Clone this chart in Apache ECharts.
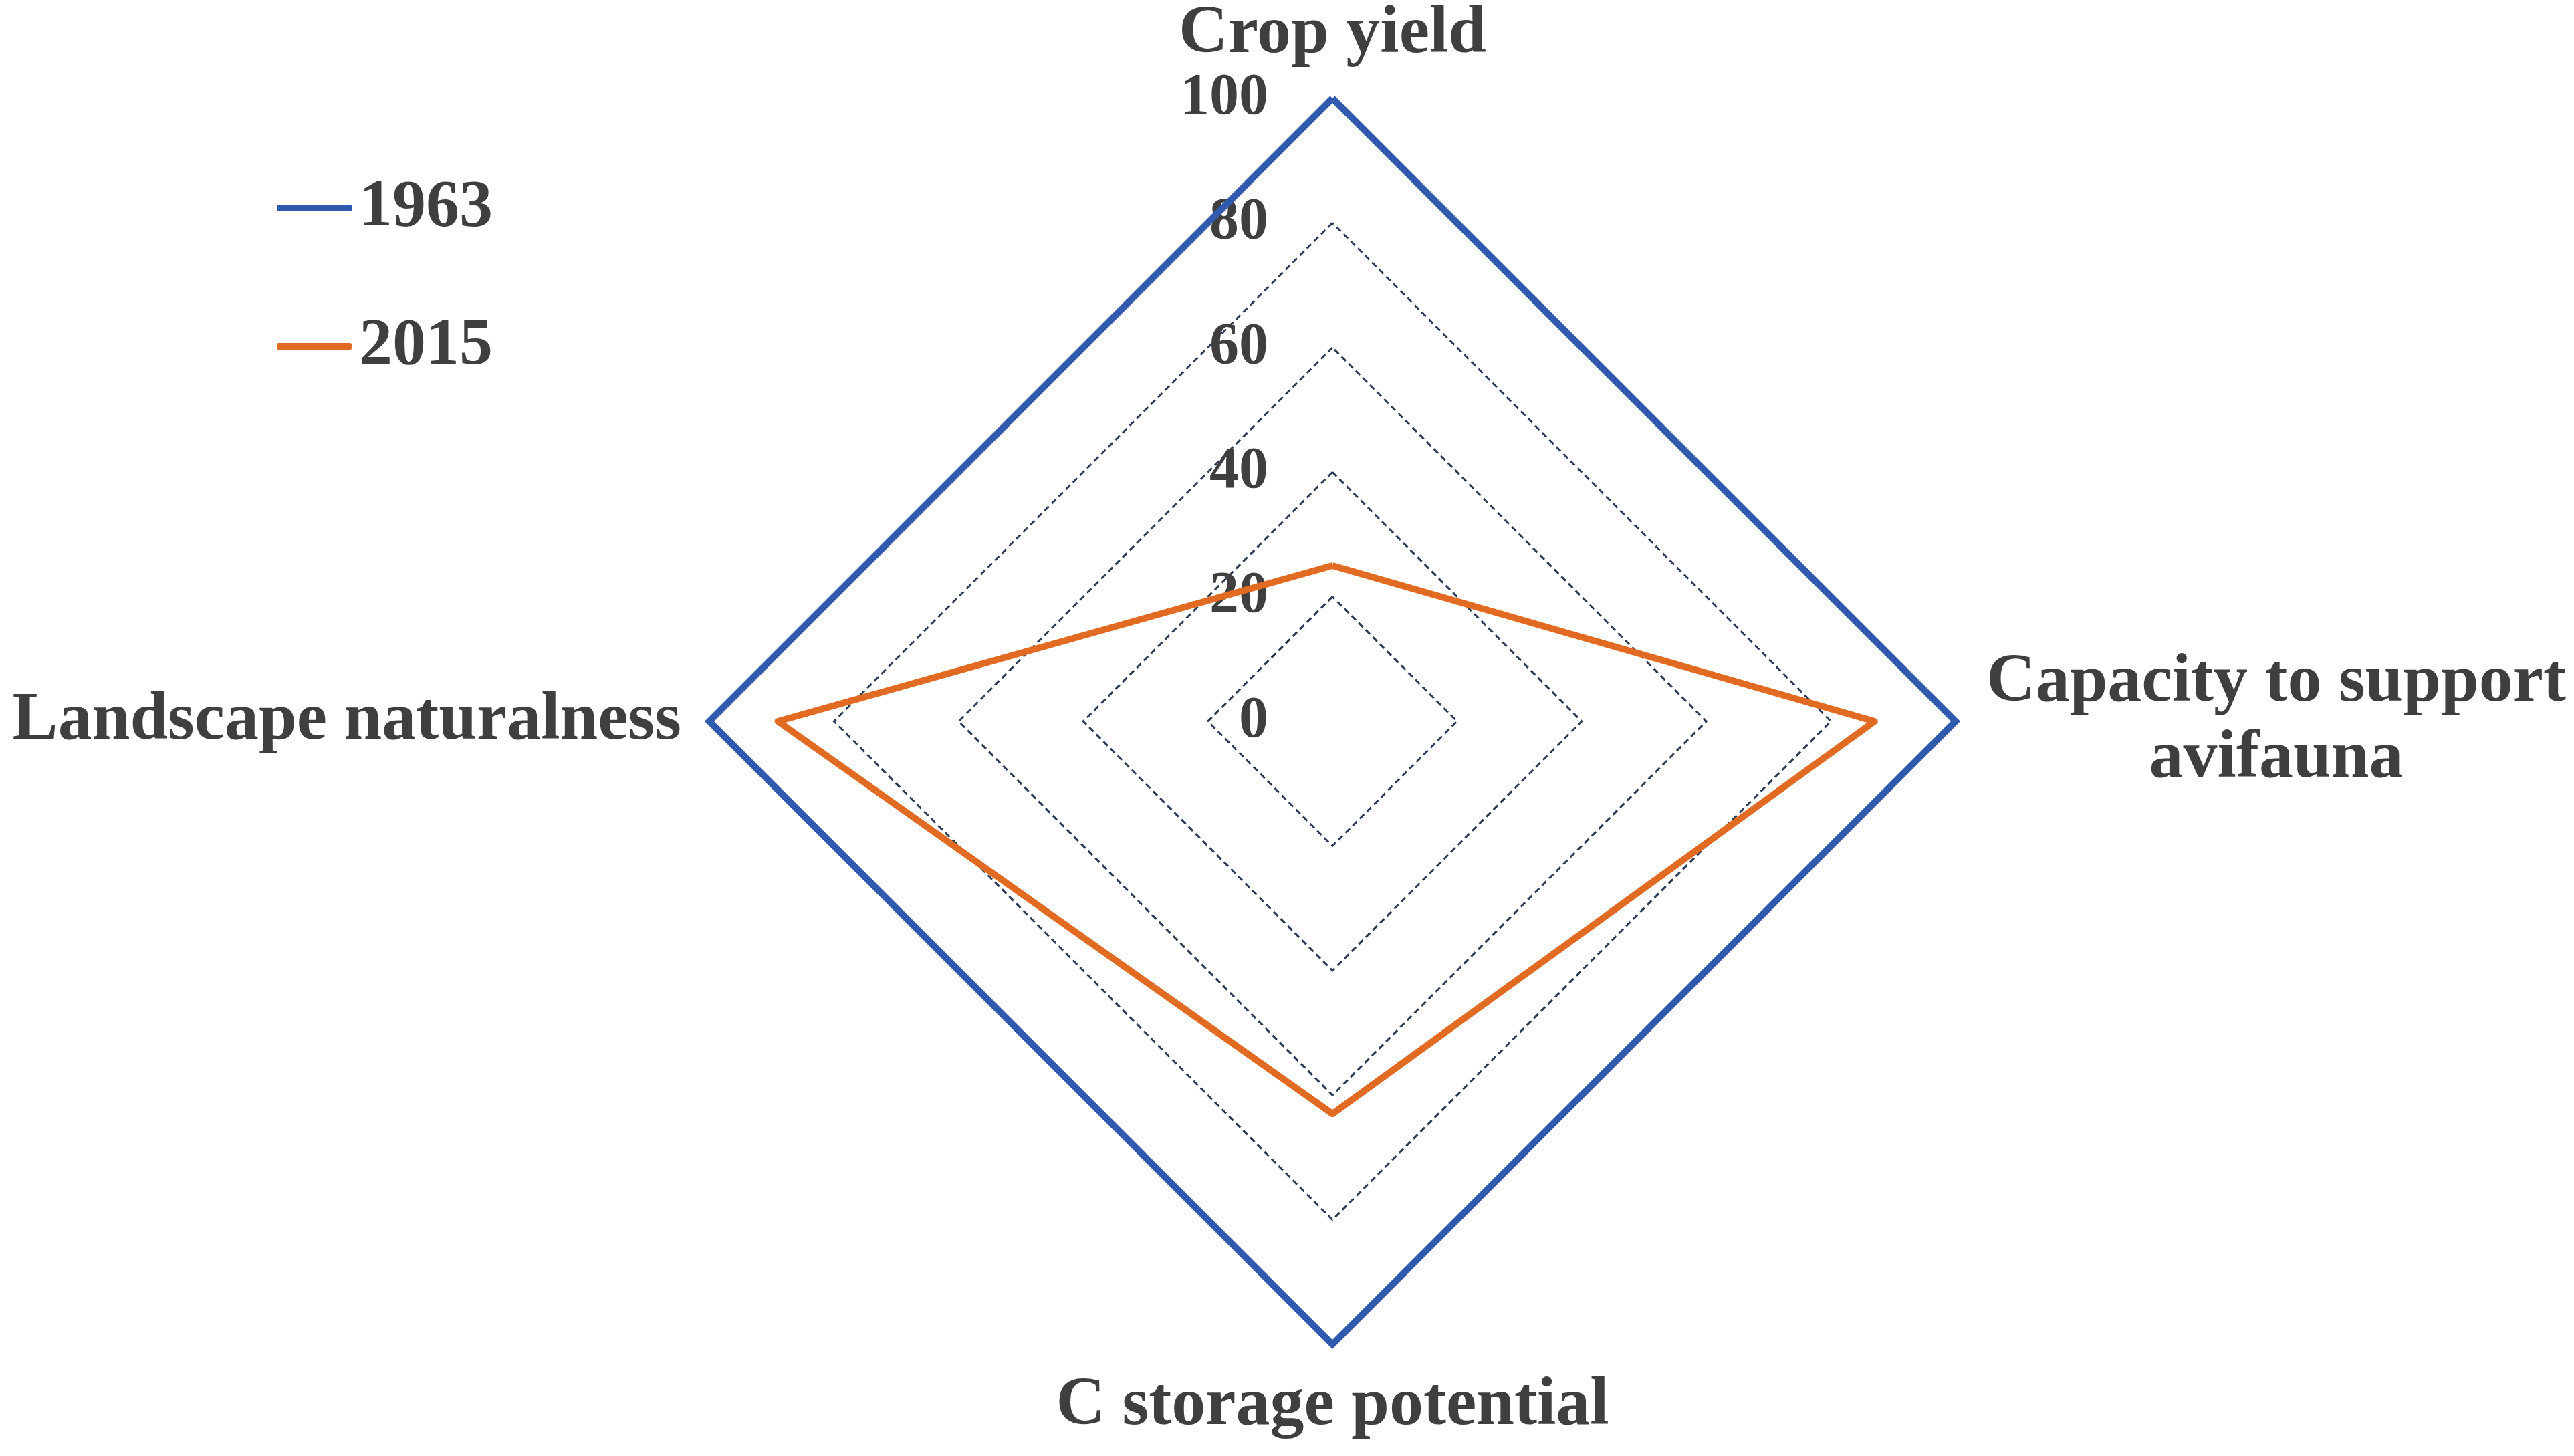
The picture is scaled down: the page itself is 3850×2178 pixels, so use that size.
<!DOCTYPE html>
<html>
<head>
<meta charset="utf-8">
<script src="https://cdn.jsdelivr.net/npm/echarts@6/dist/echarts.min.js"></script>
<style>
html,body{margin:0;padding:0;background:#fff;}
#chart{width:3850px;height:2178px;}
</style>
</head>
<body>
<div id="chart"></div>
<script>
// Indicators listed counter-clockwise from the top (ECharts radar order)
const categories = ['Crop yield', 'Landscape naturalness', 'C storage potential', 'Capacity to support avifauna'];
const seriesNames = ['1963', '2015'];
const values1963 = [100, 100, 100, 100];
const values2015 = [25, 89, 63, 87];
const tickLabels = [0, 20, 40, 60, 80, 100];

const FONT = '"Liberation Serif", "Times New Roman", serif';
const TEXT = '#3f3f3f';
const BLUE = '#2F5AAE';
const ORANGE = '#E26B24';

const chart = echarts.init(document.getElementById('chart'));
const axisMax = tickLabels[tickLabels.length - 1];

chart.setOption({
  backgroundColor: '#ffffff',
  animation: false,
  legend: {
    orient: 'vertical',
    left: 414,
    top: 261,
    padding: 0,
    itemGap: 107,
    itemWidth: 112,
    itemHeight: 10,
    icon: 'roundRect',
    data: seriesNames,
    textStyle: {
      fontFamily: FONT,
      fontWeight: 'bold',
      fontSize: 100,
      lineHeight: 100,
      color: TEXT,
      padding: [0, 0, 0, 6]
    }
  },
  radar: {
    center: [1993, 1079],
    radius: 932,
    startAngle: 90,
    shape: 'polygon',
    splitNumber: tickLabels.length - 1,
    nameGap: 42,
    axisName: {
      fontFamily: FONT,
      fontWeight: 'bold',
      fontSize: 102,
      color: TEXT,
      formatter: function (name) {
        if (name === 'Capacity to support avifauna') {
          return '{c|Capacity to support}\n{c|avifauna}';
        }
        return name;
      },
      rich: {
        c: {
          width: 875,
          align: 'center',
          fontFamily: FONT,
          fontWeight: 'bold',
          fontSize: 102,
          lineHeight: 114,
          color: TEXT
        }
      }
    },
    indicator: categories.map(function (c, i) {
      const ind = { name: c, min: tickLabels[0], max: axisMax };
      if (i !== 0) ind.axisLabel = { show: false };
      return ind;
    }),
    axisLine: { show: false },
    axisTick: { show: false },
    axisLabel: {
      show: true,
      margin: 96,
      fontFamily: FONT,
      fontWeight: 'bold',
      fontSize: 88,
      color: TEXT,
      showMinLabel: true,
      showMaxLabel: true
    },
    splitLine: {
      lineStyle: {
        color: '#2B3A55',
        width: 3,
        type: [9, 6]
      }
    },
    splitArea: { show: false }
  },
  series: [
    {
      name: seriesNames[0],
      type: 'radar',
      symbol: 'none',
      color: BLUE,
      itemStyle: { color: BLUE },
      lineStyle: { color: BLUE, width: 10, join: 'miter' },
      data: [{ value: values1963, name: seriesNames[0] }]
    },
    {
      name: seriesNames[1],
      type: 'radar',
      symbol: 'none',
      color: ORANGE,
      itemStyle: { color: ORANGE },
      lineStyle: { color: ORANGE, width: 10 },
      data: [{ value: values2015, name: seriesNames[1] }]
    }
  ]
});
</script>
</body>
</html>
